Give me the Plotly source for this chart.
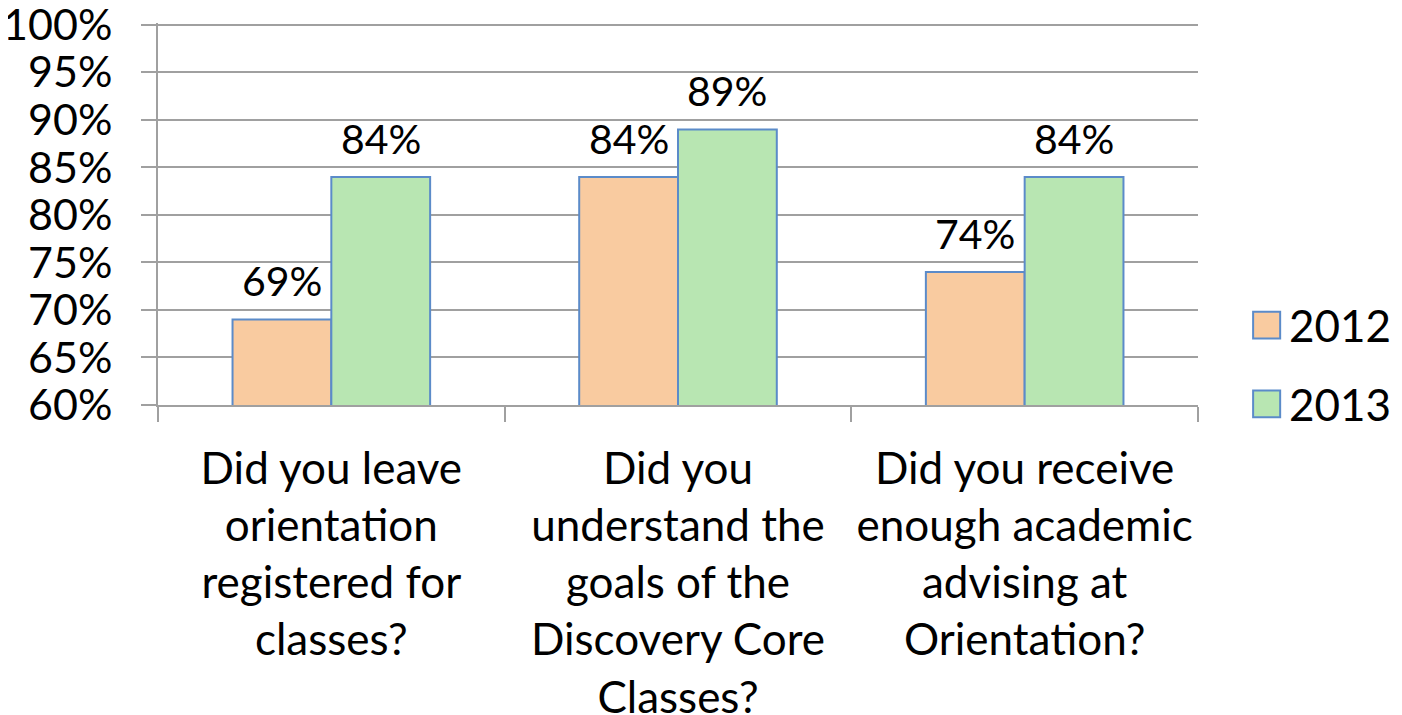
import plotly.graph_objects as go

categories = [
    "Did you leave<br>orientation<br>registered for<br>classes?",
    "Did you<br>understand the<br>goals of the<br>Discovery Core<br>Classes?",
    "Did you receive<br>enough academic<br>advising at<br>Orientation?",
]
series_names = ["2012", "2013"]
values_2012 = [69, 84, 74]
values_2013 = [84, 89, 84]
y_ticks = [60, 65, 70, 75, 80, 85, 90, 95, 100]
colors = ["#F9CBA0", "#B8E6B2"]
EDGE = "#5B8BC9"

FONT = "Lato"
FS = 43
LFS = 41
# page body has an 8px margin, so the figure is made 8px smaller
W, H = 1394, 707
L, R, T, B = 150, 204, 15, 310
BARGAP = 0.43
plot_w = W - L - R
bar_px = plot_w / len(categories) * (1 - BARGAP) / 2

fig = go.Figure()
for i, (name, vals, col) in enumerate(zip(series_names, [values_2012, values_2013], colors)):
    fig.add_trace(go.Bar(
        name=name, x=categories, y=vals,
        marker=dict(color=col, line=dict(color=EDGE, width=2)),
        showlegend=False, hoverinfo="x+y",
    ))
    for c, v in zip(categories, vals):
        fig.add_annotation(x=c, y=v, text=f"{v}%", showarrow=False,
                           xanchor="center", yanchor="bottom",
                           xshift=(i - 0.5) * bar_px, yshift=12,
                           font=dict(size=LFS, family=FONT, color="black"))

# manual legend (large square swatches like the original)
legend_y = [0.209, 0.003]
for name, col, ly in zip(series_names, colors, legend_y):
    fig.add_shape(type="rect", xref="paper", yref="paper",
                  x0=1.053, x1=1.079, y0=ly - 0.035, y1=ly + 0.035,
                  fillcolor=col, line=dict(color=EDGE, width=2))
    fig.add_annotation(xref="paper", yref="paper", x=1.086, y=ly,
                       xanchor="left", yanchor="middle", text=name,
                       showarrow=False, font=dict(size=FS + 1, family=FONT, color="black"))

fig.update_layout(
    width=W, height=H,
    margin=dict(l=L, r=R, t=T, b=B),
    paper_bgcolor="white", plot_bgcolor="white",
    barmode="group", bargap=BARGAP, bargroupgap=0,
    font=dict(family=FONT, size=FS, color="black"),
    showlegend=False,
)
fig.update_yaxes(
    range=[60, 100.2], tickvals=y_ticks, ticktext=[f"{t}%" for t in y_ticks],
    showgrid=True, gridcolor="#A0A0A0", gridwidth=2,
    showline=True, linecolor="#A0A0A0", linewidth=2,
    ticks="outside", ticklen=15, tickcolor="#A0A0A0", tickwidth=2,
    tickfont=dict(size=FS, family=FONT), zeroline=False,
    automargin=False, ticklabelstandoff=20, ticklabeloverflow="allow",
)
fig.update_xaxes(
    type="category", tickson="boundaries", ticks="outside", ticklen=15,
    tickcolor="#A0A0A0", tickwidth=2, showgrid=False,
    showline=True, linecolor="#A0A0A0", linewidth=2,
    tickfont=dict(size=FS + 1, family=FONT), automargin=False,
    ticklabelstandoff=24, ticklabeloverflow="allow",
)
fig.write_html("out.html")
